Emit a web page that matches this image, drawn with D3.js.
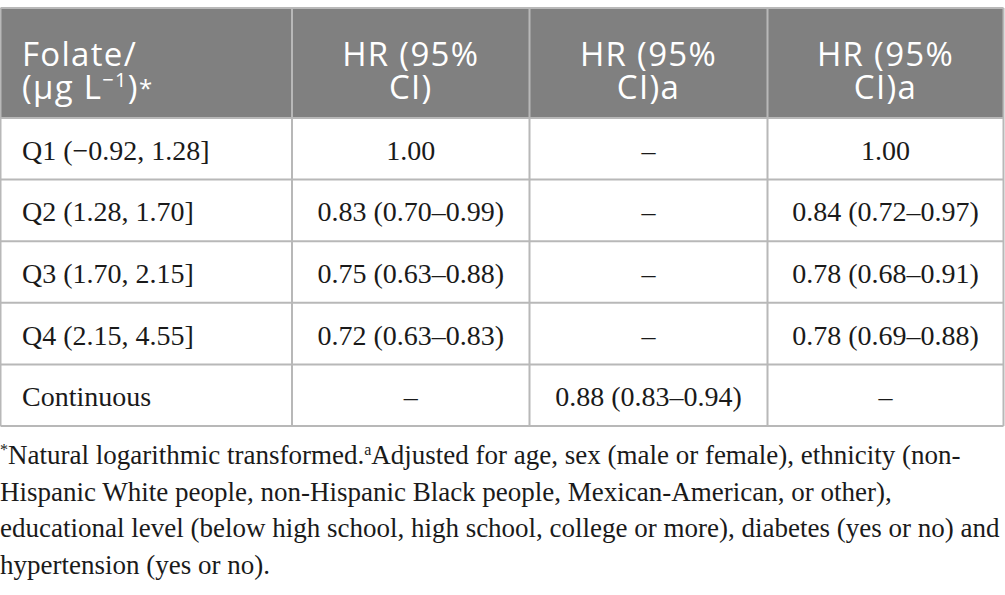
<!DOCTYPE html>
<html><head><meta charset="utf-8">
<script src="https://cdn.jsdelivr.net/npm/d3@7/dist/d3.min.js"></script>
<style>
html,body{margin:0;padding:0;background:#fff;}
svg{display:block;}
</style></head>
<body>
<svg id="c" width="1005" height="595"></svg>
<script>
// ---- data ----
const categories = ["Q1 (\u22120.92, 1.28]", "Q2 (1.28, 1.70]", "Q3 (1.70, 2.15]", "Q4 (2.15, 4.55]", "Continuous"];
const hrCrude    = ["1.00", "0.83 (0.70\u20130.99)", "0.75 (0.63\u20130.88)", "0.72 (0.63\u20130.83)", "\u2013"];
const hrAdjCont  = ["\u2013", "\u2013", "\u2013", "\u2013", "0.88 (0.83\u20130.94)"];
const hrAdjQuart = ["1.00", "0.84 (0.72\u20130.97)", "0.78 (0.68\u20130.91)", "0.78 (0.69\u20130.88)", "\u2013"];
const headers = [["Folate/", "FOLUNIT"], ["HR (95%", "CI)"], ["HR (95%", "CI)a"], ["HR (95%", "CI)a"]];
const footLines = [
  ["*", "Natural logarithmic transformed.", "a", "Adjusted for age, sex (male or female), ethnicity (non-"],
  ["", "Hispanic White people, non-Hispanic Black people, Mexican-American, or other),"],
  ["", "educational level (below high school, high school, college or more), diabetes (yes or no) and"],
  ["", "hypertension (yes or no)."]
];

// ---- layout ----
const svg = d3.select("#c");
const colEdges = [0.5, 292, 529.5, 767.5, 1003.5];
const headTop = 8, headBot = 118, tableBot = 426;
const lineColor = "#b8b8b8";
const headBg = "#808080";
const serif = "'Liberation Serif', 'Times New Roman', serif";
const sans = "'Open Sans', 'Noto Sans', sans-serif";

const y = d3.scaleBand().domain(d3.range(categories.length)).range([headBot, tableBot]);
const colCenter = i => (colEdges[i] + colEdges[i + 1]) / 2;

// header background
svg.append("rect").attr("x", colEdges[0]).attr("y", headTop)
  .attr("width", colEdges[4] - colEdges[0]).attr("height", headBot - headTop)
  .attr("fill", headBg);

// header text (one text element per cell, lines as tspans)
headers.forEach((h, i) => {
  const xx = i === 0 ? 22 : colCenter(i);
  const t = svg.append("text")
    .attr("x", xx).attr("y", 65.5)
    .attr("text-anchor", i === 0 ? "start" : "middle")
    .attr("font-family", sans).attr("font-size", 33)
    .attr("letter-spacing", 1.3)
    .attr("fill", "#fff");
  t.append("tspan").attr("x", xx).attr("y", 65.5).text(h[0]);
  if (h[1] === "FOLUNIT") {
    t.append("tspan").attr("x", xx).attr("y", 99).text("(\u03bcg L");
    t.append("tspan").attr("font-size", 20).attr("dy", -12).text("\u22121");
    t.append("tspan").attr("dy", 12).text(")");
    t.append("tspan").attr("font-size", 24).attr("dy", -2).text("*");
  } else {
    t.append("tspan").attr("x", xx).attr("y", 99).text(h[1]);
  }
});

// body rows
const cols = [categories, hrCrude, hrAdjCont, hrAdjQuart];
cols.forEach((arr, ci) => {
  svg.append("g").selectAll("text").data(arr).join("text")
    .attr("x", ci === 0 ? 22 : colCenter(ci))
    .attr("y", (d, i) => y(i) + y.bandwidth() / 2 + 11)
    .attr("text-anchor", ci === 0 ? "start" : "middle")
    .attr("font-family", serif).attr("font-size", 28)
    .attr("fill", "#1a1a1a")
    .text(d => d);
});

// grid lines
const g = svg.append("g").attr("stroke", lineColor).attr("stroke-width", 2).attr("fill", "none");
[headTop].concat(y.domain().map(i => y(i))).concat([tableBot]).forEach(v => {
  g.append("line").attr("x1", colEdges[0]).attr("x2", colEdges[4]).attr("y1", v).attr("y2", v);
});
colEdges.forEach(x => {
  g.append("line").attr("x1", x).attr("x2", x).attr("y1", headTop).attr("y2", tableBot);
});

// footnote
footLines.forEach((parts, li) => {
  const t = svg.append("text").attr("x", 0).attr("y", 464 + li * 36.7)
    .attr("font-family", serif).attr("font-size", 27).attr("fill", "#1a1a1a");
  parts.forEach((p, k) => {
    if (p === "") return;
    const sup = (k % 2 === 0);
    t.append("tspan").attr("font-size", sup ? 16 : 27)
      .attr("baseline-shift", sup ? "9" : null)
      .text(p);
  });
});
</script>
</body></html>
